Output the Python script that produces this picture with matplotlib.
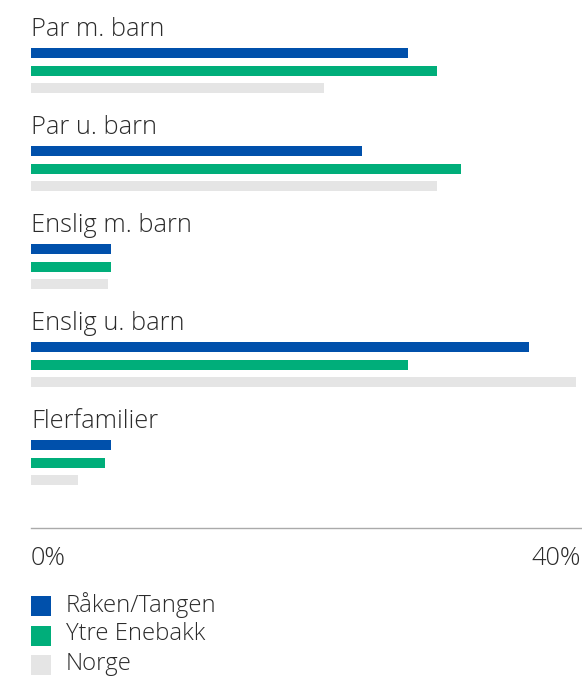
import matplotlib
matplotlib.use("Agg")
import matplotlib.pyplot as plt
from matplotlib.patches import Rectangle

categories = ["Par m. barn", "Par u. barn", "Enslig m. barn", "Enslig u. barn", "Flerfamilier"]
series_names = ["Råken/Tangen", "Ytre Enebakk", "Norge"]
raaken = [27.4, 24.1, 5.8, 36.2, 5.8]
ytre = [29.5, 31.3, 5.8, 27.4, 5.4]
norge = [21.3, 29.5, 5.6, 39.6, 3.4]
tick_values = [0, 40]
tick_labels = ["0%", "40%"]

colors = ["#0050AB", "#00AE7A", "#E5E5E5"]
text_color = "#2B2B2B"
plt.rcParams['font.family'] = ['Open Sans', 'DejaVu Sans']
plt.rcParams['font.weight'] = 'light'

W, H = 582, 677
fig = plt.figure(figsize=(W / 100, H / 100), dpi=100)
fig.patch.set_facecolor("white")

ax_left, ax_right, ax_top, ax_bottom = 31, 581, 0, 528
ax = fig.add_axes([ax_left / W, 1 - ax_bottom / H, (ax_right - ax_left) / W, (ax_bottom - ax_top) / H])
pitch = 98.0
ax.set_xlim(0, 40)
ax.set_ylim(ax_bottom / pitch, 0)

offsets = [53 / pitch, 71 / pitch, 88 / pitch]
bar_h = 10.5 / pitch
series = [raaken, ytre, norge]
for s, vals in enumerate(series):
    ys = [i + offsets[s] for i in range(len(categories))]
    ax.barh(ys, vals, height=bar_h, color=colors[s], left=0)

for i, c in enumerate(categories):
    ax.text(0, i + 35.5 / pitch, c, fontsize=18.3, color=text_color, ha="left", va="baseline",
            fontweight="light")

for sp in ["top", "right", "left"]:
    ax.spines[sp].set_visible(False)
ax.spines["bottom"].set_color("#AAAAAA")
ax.spines["bottom"].set_linewidth(1.0)
ax.set_yticks([])
ax.set_xticks(tick_values)
ax.set_xticklabels(tick_labels, fontsize=18.3, color=text_color, fontweight="light")
ax.tick_params(axis="x", length=0, pad=13)
labs = ax.get_xticklabels()
labs[0].set_ha("left")
labs[-1].set_ha("right")

# legend
for k, name in enumerate(series_names):
    y_top = 596 + 29.5 * k
    fig.patches.append(Rectangle((31 / W, 1 - (y_top + 20) / H), 20 / W, 20 / H,
                                 transform=fig.transFigure, color=colors[k], lw=0))
    fig.text(66 / W, 1 - (y_top + 9) / H, name, fontsize=17.2, color=text_color,
             ha="left", va="center", fontweight="light")

fig.savefig("out.png", dpi=100, facecolor="white")
